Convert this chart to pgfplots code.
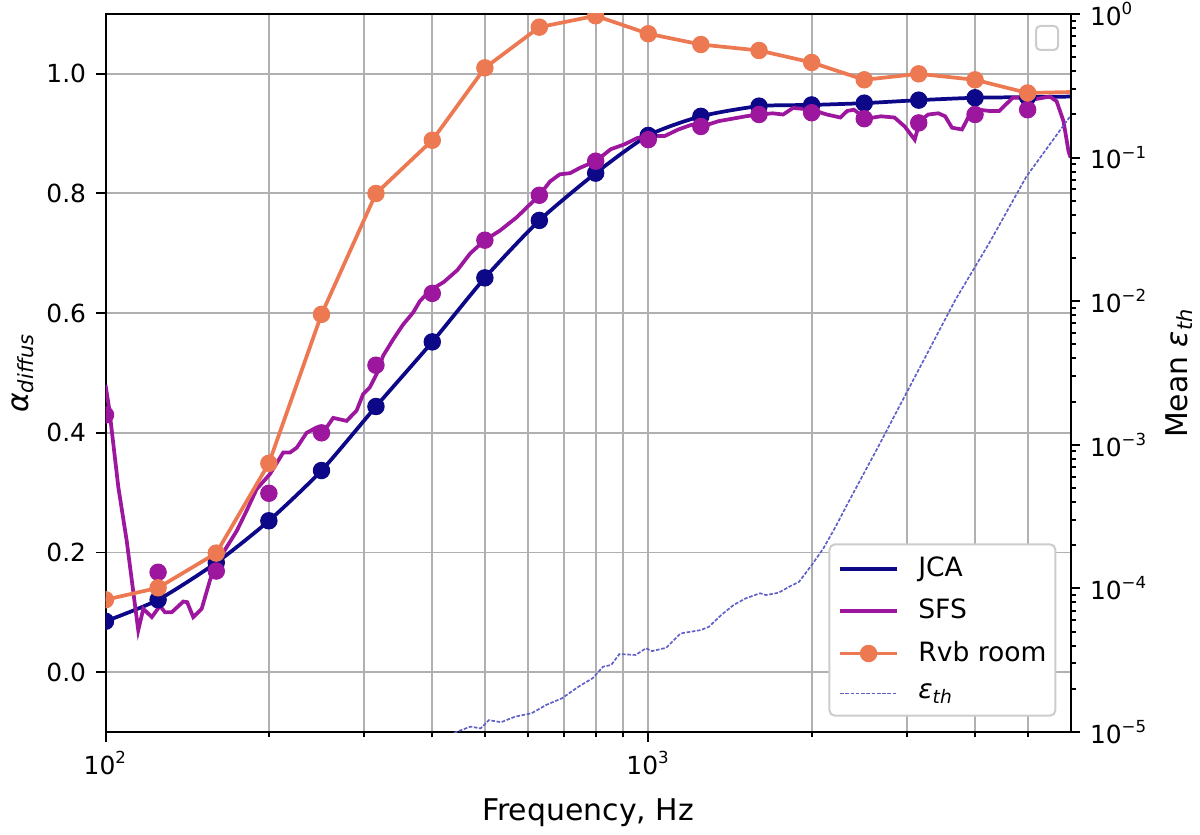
\documentclass[border=0pt]{standalone}
\usepackage{fontspec}
\setmainfont{DejaVu Sans}
\usepackage{pgfplots}
\usepackage{pgfplotstable}
\pgfplotsset{compat=1.18}
\definecolor{jca}{HTML}{0D0887}
\definecolor{sfs}{HTML}{9C179E}
\definecolor{rvb}{HTML}{ED7953}
\definecolor{eps}{RGB}{95,95,200}
\definecolor{gridc}{HTML}{B0B0B0}
\definecolor{legc}{HTML}{CCCCCC}

\pgfplotstableread{
f v
100 0.085
125 0.121
160 0.183
200 0.253
250 0.337
315 0.444
400 0.552
500 0.659
630 0.755
800 0.834
1000 0.897
1250 0.929
1600 0.946
2000 0.948
2500 0.951
3150 0.956
4000 0.960
5000 0.961
6000 0.962
}\jcaline

\pgfplotstableread{
f v
100 0.085
125 0.121
160 0.183
200 0.253
250 0.337
315 0.444
400 0.552
500 0.659
630 0.755
800 0.834
1000 0.897
1250 0.929
1600 0.946
2000 0.948
2500 0.951
3150 0.956
4000 0.960
5000 0.961
}\jcamarks

\pgfplotstableread{
f v
100 0.430
125 0.167
160 0.169
200 0.299
250 0.400
315 0.513
400 0.633
500 0.722
630 0.797
800 0.854
1000 0.890
1250 0.912
1600 0.932
2000 0.935
2500 0.925
3150 0.918
4000 0.932
5000 0.940
}\sfsmarks

\pgfplotstableread{
f v
100 0.480
101.6 0.440
105.6 0.309
109.4 0.220
114.9 0.070
117.4 0.106
121.7 0.092
126.0 0.111
128.7 0.100
132.4 0.100
139.1 0.118
141.4 0.117
145.1 0.092
150.4 0.106
155.7 0.153
159.1 0.178
167.2 0.209
174.5 0.236
182.0 0.270
189.9 0.306
200.9 0.331
212.5 0.367
218.7 0.367
225.0 0.375
234.7 0.400
244.8 0.409
255.5 0.409
262.7 0.425
278.1 0.420
290.1 0.437
298.4 0.465
306.9 0.476
315.8 0.498
324.8 0.529
338.8 0.556
353.5 0.581
368.8 0.601
379.5 0.620
396.0 0.638
420 0.652
445 0.672
470 0.700
500 0.722
533 0.738
572 0.760
630 0.797
659 0.820
687 0.832
718 0.834
749 0.843
800 0.854
853 0.874
903 0.882
956 0.893
1012 0.896
1072 0.896
1136 0.907
1203 0.915
1255 0.912
1349 0.921
1429 0.925
1512 0.929
1600 0.932
1696 0.934
1772 0.932
1849 0.943
2000 0.940
2133 0.932
2259 0.927
2326 0.938
2393 0.940
2516 0.925
2684 0.929
2842 0.927
2968 0.912
3097 0.890
3165 0.921
3279 0.932
3425 0.934
3524 0.929
3627 0.910
3785 0.907
3896 0.929
4067 0.940
4246 0.938
4432 0.938
4694 0.960
4971 0.960
5189 0.958
5495 0.962
5655 0.954
5821 0.921
5946 0.871
6000 0.860
}\sfsline

\pgfplotstableread{
f v
100 0.121
125 0.141
160 0.199
200 0.349
250 0.598
315 0.800
400 0.889
500 1.010
630 1.078
800 1.097
1000 1.067
1250 1.049
1600 1.039
2000 1.019
2500 0.990
3150 1.000
4000 0.990
5000 0.968
6300 0.970
}\rvb

\pgfplotstableread{
f e
430 0.95e-5
442.7 1.00e-5
470.3 1.09e-5
491 1.06e-5
508.6 1.21e-5
535.5 1.17e-5
568.9 1.28e-5
609.5 1.35e-5
647.7 1.54e-5
694 1.72e-5
744 2.07e-5
790 2.37e-5
825.6 2.85e-5
854.6 2.93e-5
884.8 3.49e-5
948 3.44e-5
990 3.83e-5
1016 3.66e-5
1079 3.86e-5
1147 4.86e-5
1250 5.13e-5
1294 5.41e-5
1363 6.53e-5
1436 7.66e-5
1512 8.53e-5
1607 9.25e-5
1649 8.99e-5
1738 9.33e-5
1830 1.04e-4
1895 1.11e-4
2002 1.46e-4
2102 1.90e-4
2214 2.69e-4
2332 3.92e-4
2477 6.00e-4
2633 9.20e-4
3679 1.02e-2
4246 2.53e-2
4971 7.36e-2
5984 0.193
6000 0.196
}\epsth

\pgfplotsset{
  every axis/.append style={
    xmode=log, xmin=100, xmax=6000,
    scale only axis, width=348.72pt, height=259.44pt,
    at={(0,0)}, anchor=south west,
    tick align=outside,
    major tick length=3.5pt, minor tick length=1.9pt,
    every tick/.append style={black, line width=0.72pt},
    tick label style={font=\fontsize{9}{10}\selectfont},
    label style={font=\fontsize{10.8}{12}\selectfont},
    axis line style={line width=0.72pt},
    clip marker paths=true,
  },
}

\begin{document}
\begin{tikzpicture}
\begin{axis}[
  ymin=-0.1, ymax=1.1,
  xtick={100,1000}, xticklabels={10\textsuperscript{2},10\textsuperscript{3}},
  minor xtick={200,300,400,500,600,700,800,900,2000,3000,4000,5000},
  ytick={0,0.2,0.4,0.6,0.8,1.0}, yticklabels={0.0,0.2,0.4,0.6,0.8,1.0},
  xtick pos=left, ytick pos=left,
  xmajorgrids, xminorgrids, ymajorgrids,
  major grid style={gridc, line width=0.72pt},
  minor grid style={gridc, line width=0.72pt},
  xlabel={Frequency, Hz},
  ylabel={{\itshape α}\textsubscript{\itshape diffus}},
  xlabel style={at={(axis description cs:0.5,-0.1226)}, anchor=base},
  ylabel style={at={(axis description cs:-0.0803,0.5)}, anchor=base},
]
\addplot[jca, line width=1.35pt, smooth, tension=0.4] table[x=f,y=v] {\jcaline};
\addplot[sfs, line width=1.35pt] table[x=f,y=v] {\sfsline};
\addplot[only marks, mark=*, mark size=2.95pt, mark options={fill=jca, draw=jca, line width=0.4pt}] table[x=f,y=v] {\jcamarks};
\addplot[only marks, mark=*, mark size=2.95pt, mark options={fill=sfs, draw=sfs, line width=0.4pt}] table[x=f,y=v] {\sfsmarks};
\addplot[rvb, line width=1.35pt, mark=*, mark size=2.95pt, mark options={fill=rvb, draw=rvb, line width=0.4pt}] table[x=f,y=v] {\rvb};
\draw[legc, rounded corners=1.5pt, line width=0.72pt, fill=white] (rel axis cs:0.9642,0.9499) rectangle (rel axis cs:0.9870,0.9833);
\end{axis}
\begin{axis}[
  ymode=log, ymin=1e-5, ymax=1,
  axis x line=none, axis y line*=right,
  ytick={1e-5,1e-4,1e-3,1e-2,1e-1,1},
  yticklabels={10\textsuperscript{−5},10\textsuperscript{−4},10\textsuperscript{−3},10\textsuperscript{−2},10\textsuperscript{−1},10\textsuperscript{0}},
  minor ytick={2e-5,3e-5,4e-5,5e-5,6e-5,7e-5,8e-5,9e-5,
               2e-4,3e-4,4e-4,5e-4,6e-4,7e-4,8e-4,9e-4,
               2e-3,3e-3,4e-3,5e-3,6e-3,7e-3,8e-3,9e-3,
               2e-2,3e-2,4e-2,5e-2,6e-2,7e-2,8e-2,9e-2,
               2e-1,3e-1,4e-1,5e-1,6e-1,7e-1,8e-1,9e-1},
  ylabel={Mean {\itshape ε}\textsubscript{\itshape th}},
  ylabel style={at={(axis description cs:1.1207,0.5)}, anchor=base},
  legend cell align=left,
  legend style={at={(rel axis cs:0.9853,0.0213)}, anchor=south east,
    draw=legc, line width=0.72pt, rounded corners=2pt, fill=white,
    font=\fontsize{9.6}{11}\selectfont, inner xsep=3.2pt, inner ysep=2.6pt,
    nodes={inner xsep=0pt, inner ysep=2pt},
    column sep=7pt, row sep=2.6pt},
  legend image code/.code={\draw[mark repeat=2,mark phase=2,#1] plot coordinates {(0pt,0pt) (10.3pt,0pt) (20.6pt,0pt)};},
]
\addlegendimage{jca, line width=1.35pt}
\addlegendentry{JCA}
\addlegendimage{sfs, line width=1.35pt}
\addlegendentry{SFS}
\addlegendimage{rvb, line width=1.35pt, mark=*, mark size=2.95pt, mark options={fill=rvb, draw=rvb, line width=0.4pt}}
\addlegendentry{Rvb room}
\addplot[eps, line width=0.6pt, dash pattern=on 1.3pt off 0.6pt] table[x=f,y=e] {\epsth};
\addlegendentry{{\itshape ε}\textsubscript{\itshape th}}
\end{axis}
\pgfresetboundingbox
\path[use as bounding box] (-38.12pt,-36.86pt) rectangle (395.48pt,264.50pt);
\end{tikzpicture}
\end{document}
